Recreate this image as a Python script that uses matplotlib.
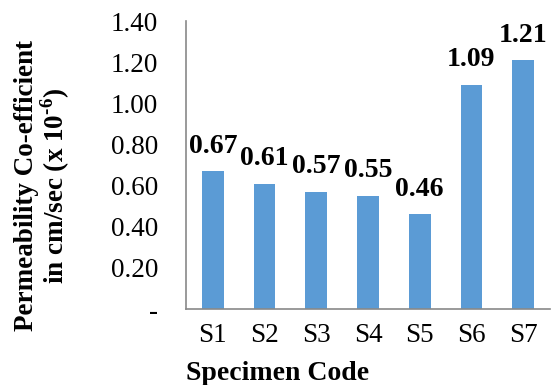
import matplotlib
matplotlib.use("Agg")
import matplotlib.pyplot as plt

# datos del grafico
codigos = ["S1", "S2", "S3", "S4", "S5", "S6", "S7"]
permeabilidad = [0.67, 0.61, 0.57, 0.55, 0.46, 1.09, 1.21]
y_ticks = [0, 0.2, 0.4, 0.6, 0.8, 1.0, 1.2, 1.4]
y_ticklabels = ["-", "0.20", "0.40", "0.60", "0.80", "1.00", "1.20", "1.40"]

plt.rcParams["font.family"] = "Liberation Serif"
plt.rcParams["mathtext.fontset"] = "custom"
plt.rcParams["mathtext.rm"] = "Liberation Serif:bold"
plt.rcParams["mathtext.bf"] = "Liberation Serif:bold"

fig = plt.figure(figsize=(5.56, 3.85), dpi=100)
ax = fig.add_axes([0.3345, 0.1974, 0.6547, 0.748])

x = range(len(codigos))
ax.bar(x, permeabilidad, width=0.42, color="#5B9BD5")

for xi, v in zip(x, permeabilidad):
    ax.annotate(f"{v:.2f}", (xi, v), xytext=(0, 9), textcoords="offset points",
                ha="center", va="bottom", fontsize=20, fontweight="bold")

ax.set_xlim(-0.52, 6.52)
ax.set_ylim(0, 1.4)
ax.set_xticks(list(x))
ax.set_xticklabels(codigos)
ax.set_yticks(y_ticks)
ax.set_yticklabels(y_ticklabels)
ax.tick_params(axis="y", length=0, pad=20, labelsize=19.5)
ax.tick_params(axis="x", length=0, pad=10, labelsize=19.5)

for s in ["top", "right"]:
    ax.spines[s].set_visible(False)
for s in ["left", "bottom"]:
    ax.spines[s].set_color("#898989")
    ax.spines[s].set_linewidth(1.2)

ax.set_xlabel("Specimen Code", fontsize=20, fontweight="bold")
ax.xaxis.set_label_coords(0.5, 0.062, transform=fig.transFigure)
ax.set_ylabel("Permeability Co-efficient\nin cm/sec (x 10$^{\u20106}$)", fontsize=19.5,
              fontweight="bold", va="center", ha="center", linespacing=1.0)
ax.yaxis.set_label_coords(43 / 556, 0.517, transform=fig.transFigure)

fig.savefig("out.png", dpi=100)
